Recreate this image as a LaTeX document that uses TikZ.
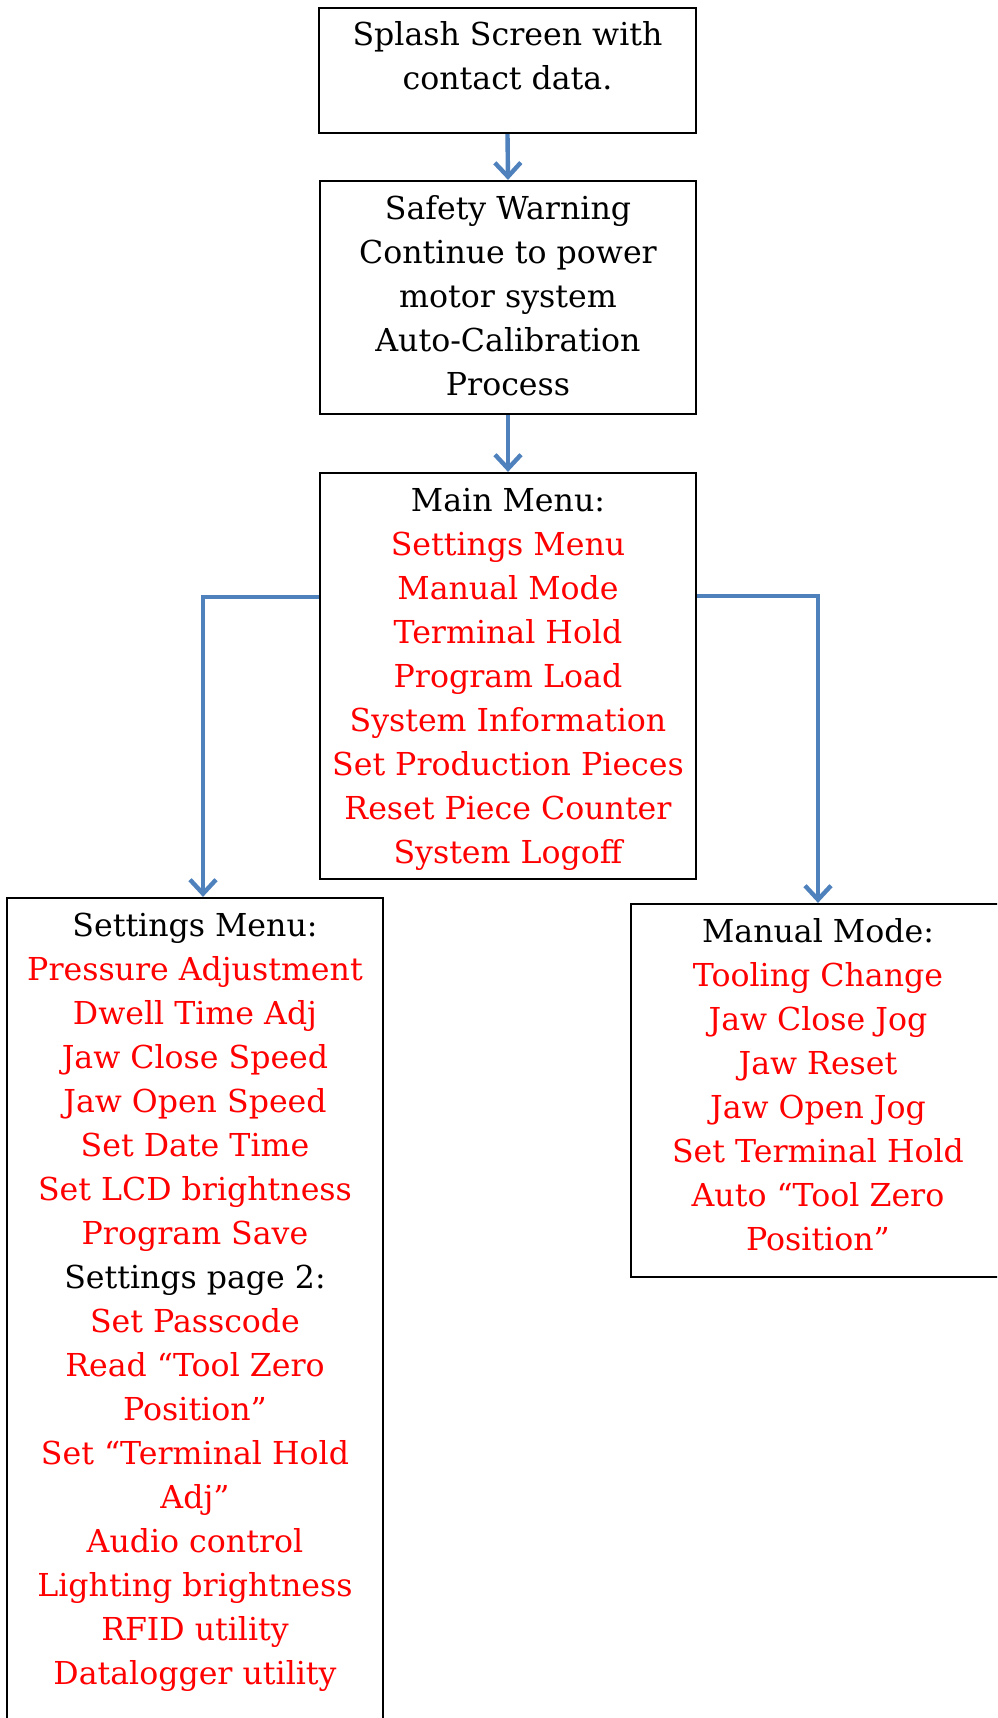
\documentclass[tikz,border=0pt]{standalone}
\usepackage{fontspec}
\setmainfont{DejaVu Serif}
\usetikzlibrary{arrows.meta}
\definecolor{flowblue}{HTML}{4F81BD}
\definecolor{itemred}{HTML}{FF0000}
% fixed size box, text set from the top
\newcommand{\menutext}[3]{\parbox[c][#2][t]{#1}{\centering\rule{0pt}{19pt}#3}}
\newcommand{\itm}[1]{\textcolor{itemred}{#1}}

\begin{document}
\begin{tikzpicture}[x=0.5pt,y=-0.5pt,
    menubox/.style={draw, line width=1.1pt, inner sep=0pt, font=\fontsize{15.8pt}{22pt}\selectfont},
    flow/.style={draw=flowblue, line width=2.2pt, -{Straight Barb[length=7pt,width=13pt]}}]
		% page frame
		\clip (0,0) rectangle (997,1718);
		
		% screens, top to bottom
		\node[menubox] (splash) at (507.5,70.5) {\menutext{188.5pt}{62.5pt}{Splash Screen with\\ contact data.}};
		\node[menubox] (safety) at (508,297.5) {\menutext{188pt}{116.5pt}{Safety Warning\\ Continue to power\\ motor system\\ Auto-Calibration\\ Process}};
		\node[menubox] (main) at (508,676) {\menutext{188pt}{203pt}{Main Menu:\\
			\itm{Settings Menu}\\ \itm{Manual Mode}\\ \itm{Terminal Hold}\\ \itm{Program Load}\\
			\itm{System Information}\\ \itm{Set Production Pieces}\\ \itm{Reset Piece Counter}\\ \itm{System Logoff}}};
		
		% sub menus
		\node[menubox] (settings) at (195,1319) {\menutext{188pt}{421pt}{Settings Menu:\\
			\itm{Pressure Adjustment}\\ \itm{Dwell Time Adj}\\ \itm{Jaw Close Speed}\\ \itm{Jaw Open Speed}\\
			\itm{Set Date Time}\\ \itm{Set LCD brightness}\\ \itm{Program Save}\\ Settings page 2:\\
			\itm{Set Passcode}\\ \itm{Read “Tool Zero}\\ \itm{Position”}\\ \itm{Set “Terminal Hold}\\ \itm{Adj”}\\
			\itm{Audio control}\\ \itm{Lighting brightness}\\ \itm{RFID utility}\\ \itm{Datalogger utility}}};
		\node[menubox] (manual) at (818,1090.5) {\menutext{187pt}{186.5pt}{Manual Mode:\\
			\itm{Tooling Change}\\ \itm{Jaw Close Jog}\\ \itm{Jaw Reset}\\ \itm{Jaw Open Jog}\\
			\itm{Set Terminal Hold}\\ \itm{Auto “Tool Zero}\\ \itm{Position”}}};
		
		% arrows
		\draw[flow] (splash.south) -- (safety.north);
		\draw[flow] (safety.south) -- (main.north);
		\draw[flow] ([yshift=-62.5pt]main.north west) -| ([xshift=4pt]settings.north);
		\draw[flow] ([yshift=-62pt]main.north east) -| (manual.north);
	\end{tikzpicture}
\end{document}
